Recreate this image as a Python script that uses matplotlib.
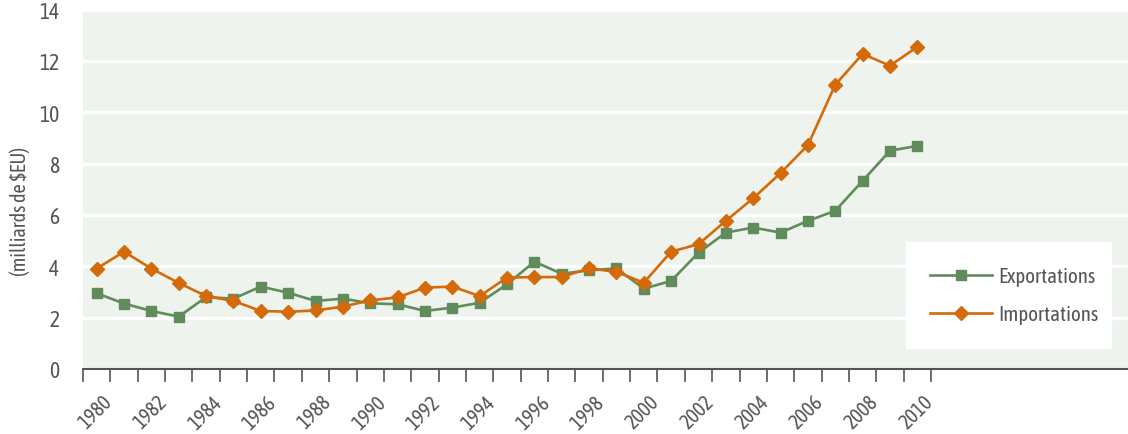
import matplotlib
matplotlib.use('Agg')
import matplotlib.pyplot as plt

plt.rcParams['font.family'] = ['Asap Condensed', 'DejaVu Sans']

years = list(range(1980, 2011))
exportations = [2.95, 2.55, 2.26, 2.04, 2.80, 2.74, 3.21, 2.97, 2.65, 2.74, 2.56,
	2.52, 2.26, 2.39, 2.58, 3.30, 4.18, 3.71, 3.84, 3.92, 3.13,
	3.43, 4.53, 5.31, 5.51, 5.31, 5.77, 6.16, 7.33, 8.50, 8.69]
importations = [3.91, 4.57, 3.91, 3.35, 2.84, 2.65, 2.26, 2.23, 2.28, 2.43, 2.67,
	2.79, 3.17, 3.21, 2.84, 3.56, 3.58, 3.58, 3.92, 3.78, 3.36,
	4.57, 4.86, 5.77, 6.65, 7.63, 8.72, 11.07, 12.27, 11.81, 12.55]
yticks = [0, 2, 4, 6, 8, 10, 12, 14]

green = '#5f8c5a'
orange = '#d46a0a'
grey = '#555555'

fig = plt.figure(figsize=(11.28, 4.35), dpi=100)
ax = fig.add_axes([83/1128, 1-370/435, 1-83/1128, (370-10.5)/435])
ax.set_facecolor('#eef3ed')

x = list(range(len(years)))
ax.plot(x, exportations, color=green, lw=1.9, marker='s', ms=7, label='Exportations', zorder=3)
ax.plot(x, importations, color=orange, lw=1.9, marker='D', ms=6.8, label='Importations', zorder=3)

ax.set_ylim(0, 14)
ax.set_xlim(-0.5, 37.7)
ax.set_yticks(yticks)
ax.set_yticklabels([str(v) for v in yticks], fontsize=15.5, color=grey)
ax.yaxis.grid(True, color='white', lw=2.5)
ax.set_axisbelow(True)
ax.tick_params(axis='y', length=0, pad=17)

# ticks entre les catégories
ax.set_xticks([i - 0.5 for i in range(len(years) + 1)])
ax.set_xticklabels([])
ax.tick_params(axis='x', direction='out', length=9, width=1.2, color=grey)
for i, yr in enumerate(years):
	if i % 2 == 0:
		ax.text(i + 0.45, -1.15, str(yr), rotation=45, ha='right', va='center',
			rotation_mode='anchor', fontsize=14.5, color=grey, transform=ax.transData)

for s in ['top', 'right', 'left']:
	ax.spines[s].set_visible(False)
ax.spines['bottom'].set_color(grey)
ax.spines['bottom'].set_linewidth(1.5)

ax.set_ylabel('(milliards de $EU)', fontsize=14.5, color=grey)
ax.yaxis.set_label_coords((30-83)/1045, (370-211)/359.5)

leg = ax.legend(loc='lower left', bbox_to_anchor=((906-83)/1045, (370-349)/359.5, (1111-906)/1045, (349-240)/359.5),
	mode='expand', frameon=True, fancybox=False, fontsize=15, handlelength=3.0,
	labelspacing=0.85, borderpad=1.15, borderaxespad=0, handletextpad=0.3, labelcolor=grey)
leg.get_frame().set_facecolor('white')
leg.get_frame().set_edgecolor('white')
leg.get_frame().set_alpha(1)

fig.savefig('out.png', dpi=100)
